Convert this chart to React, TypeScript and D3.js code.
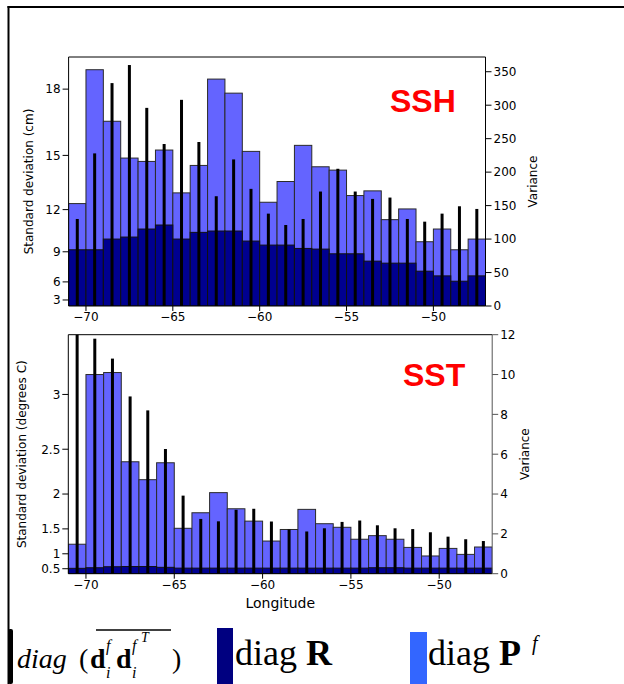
import React from 'react';
import * as d3 from 'd3';

// Longitude bins (left edge of each 1-degree bin)
const lonBins = [-71, -70, -69, -68, -67, -66, -65, -64, -63, -62, -61, -60, -59, -58, -57, -56, -55, -54, -53, -52, -51, -50, -49, -48];
const lonTicks = [-70, -65, -60, -55, -50];

// SSH (variance, cm^2)
const sshPf = [153, 353, 276, 221, 216, 233, 169, 210, 339, 318, 231, 155, 186, 240, 208, 203, 165, 172, 129, 145, 96, 115, 84, 100];
const sshR = [84, 84, 100, 103, 115, 121, 100, 110, 112, 112, 97, 91, 91, 86, 85, 78, 78, 67, 64, 64, 52, 45, 37, 45];
const sshDD = [130, 228, 333, 360, 296, 242, 308, 245, 164, 219, 175, 138, 121, 130, 171, 205, 171, 160, 162, 130, 126, 138, 149, 145];
const sshStdTicks = [3, 6, 9, 12, 15, 18];
const sshVarTicks = [0, 50, 100, 150, 200, 250, 300, 350];

// SST (variance, degC^2)
const sstPf = [1.48, 10.0, 10.1, 5.62, 4.72, 5.57, 2.28, 3.06, 4.07, 3.26, 2.64, 1.64, 2.22, 3.23, 2.51, 2.33, 1.73, 1.91, 1.73, 1.32, 0.89, 1.27, 0.97, 1.34];
const sstR = [0.27, 0.3, 0.35, 0.36, 0.36, 0.32, 0.28, 0.28, 0.28, 0.28, 0.28, 0.28, 0.28, 0.28, 0.28, 0.28, 0.28, 0.3, 0.3, 0.28, 0.28, 0.28, 0.28, 0.28];
const sstDD = [13, 11.8, 10.8, 8.9, 8.2, 6.26, 3.92, 2.75, 2.63, 3.21, 3.26, 2.62, 2.22, 2.12, 2.28, 2.6, 2.67, 2.43, 2.28, 2.24, 2.08, 1.86, 1.73, 1.64];
const sstStdTicks = [0.5, 1, 1.5, 2, 2.5, 3];
const sstVarTicks = [0, 2, 4, 6, 8, 10, 12];

const SANS = '"DejaVu Sans", sans-serif';
const SERIF = '"Liberation Serif", "Times New Roman", serif';
const LIGHT = '#6464ff';
const DARK = '#000090';

type PanelProps = {
  id: string;
  x0: number; x1: number; y0: number; y1: number;
  varMax: number;
  pf: number[]; r: number[]; dd: number[];
  stdTicks: number[]; varTicks: number[];
  leftTitle: string; leftTitleX: number;
  rightTitleX: number;
  tag: string; tagX: number; tagY: number;
  xTitle?: string;
  rightColor: string;
};

function fmtLon(v: number) {
  return v < 0 ? '\u2212' + Math.abs(v) : String(v);
}

function Panel(p: PanelProps) {
  const x = d3.scaleLinear().domain([-71, -47]).range([p.x0, p.x1]);
  const y = d3.scaleLinear().domain([0, p.varMax]).range([p.y1, p.y0]);
  const cy = (p.y0 + p.y1) / 2;
  return (
    <g>
      <defs>
        <clipPath id={p.id}>
          <rect x={p.x0} y={p.y0} width={p.x1 - p.x0} height={p.y1 - p.y0} />
        </clipPath>
      </defs>
      <g clipPath={`url(#${p.id})`}>
        {lonBins.map((b, i) => (
          <rect key={'pf' + i} x={x(b)} y={y(p.pf[i])} width={x(b + 1) - x(b)} height={p.y1 - y(p.pf[i])}
            fill={LIGHT} stroke="#2a2a2a" strokeWidth={1} />
        ))}
        {lonBins.map((b, i) => (
          <rect key={'r' + i} x={x(b)} y={y(p.r[i])} width={x(b + 1) - x(b)} height={p.y1 - y(p.r[i])}
            fill={DARK} stroke="#111" strokeWidth={1} />
        ))}
        {lonBins.map((b, i) => (
          <rect key={'dd' + i} x={x(b + 0.5) - 1.5} y={y(p.dd[i])} width={3} height={p.y1 - y(p.dd[i])} fill="#000" />
        ))}
      </g>
      <line x1={p.x0} x2={p.x1} y1={p.y0} y2={p.y0} stroke="#000" strokeWidth={1} />
      <line x1={p.x0} x2={p.x1} y1={p.y1} y2={p.y1} stroke="#000" strokeWidth={1} />
      <line x1={p.x0} x2={p.x0} y1={p.y0} y2={p.y1} stroke="#000" strokeWidth={1} />
      <line x1={p.x1} x2={p.x1} y1={p.y0} y2={p.y1} stroke={p.rightColor} strokeWidth={1} />
      {p.stdTicks.map((s) => (
        <g key={'ls' + s}>
          <line x1={p.x0 - 6} x2={p.x0} y1={y(s * s)} y2={y(s * s)} stroke="#000" />
          <text x={p.x0 - 8} y={y(s * s)} dy="0.36em" textAnchor="end" fontFamily={SANS} fontSize={12}>{s}</text>
        </g>
      ))}
      {p.varTicks.map((v) => (
        <g key={'rv' + v}>
          <line x1={p.x1} x2={p.x1 + 6} y1={y(v)} y2={y(v)} stroke={p.rightColor} />
          <text x={p.x1 + 8} y={y(v)} dy="0.36em" textAnchor="start" fontFamily={SANS} fontSize={12}>{v}</text>
        </g>
      ))}
      {lonTicks.map((t) => (
        <g key={'xt' + t}>
          <line x1={x(t)} x2={x(t)} y1={p.y1} y2={p.y1 + 5} stroke="#000" />
          <text x={x(t)} y={p.y1 + 15} textAnchor="middle" fontFamily={SANS} fontSize={12}>{fmtLon(t)}</text>
        </g>
      ))}
      <text transform={`translate(${p.leftTitleX},${cy}) rotate(-90)`} textAnchor="middle" fontFamily={SANS} fontSize={12}>{p.leftTitle}</text>
      <text transform={`translate(${p.rightTitleX},${cy}) rotate(-90)`} textAnchor="middle" fontFamily={SANS} fontSize={12}>Variance</text>
      <text x={p.tagX} y={p.tagY} fill="#ff0000" fontFamily='"Liberation Sans", Arial, sans-serif' fontWeight="bold" fontSize={32}>{p.tag}</text>
      {p.xTitle && (
        <text x={(p.x0 + p.x1) / 2} y={p.y1 + 34} textAnchor="middle" fontFamily={SANS} fontSize={14}>{p.xTitle}</text>
      )}
    </g>
  );
}

function Legend() {
  return (
    <g>
      <rect x={8} y={629} width={5} height={55} rx={2} fill="#000" />
      <text x={17} y={668} fontFamily={SERIF} fontStyle="italic" fontSize={28}>diag</text>
      <text x={79} y={668} fontFamily={SERIF} fontSize={28}>(</text>
      <text x={90} y={668} fontFamily={SERIF} fontWeight="bold" fontSize={28}>d</text>
      <text x={106} y={651} fontFamily={SERIF} fontStyle="italic" fontSize={16}>f</text>
      <text x={106} y={678} fontFamily={SERIF} fontStyle="italic" fontSize={16}>i</text>
      <text x={116} y={668} fontFamily={SERIF} fontWeight="bold" fontSize={28}>d</text>
      <text x={132} y={678} fontFamily={SERIF} fontStyle="italic" fontSize={16}>i</text>
      <text x={132} y={651} fontFamily={SERIF} fontStyle="italic" fontSize={16}>f</text>
      <text x={141} y={642} fontFamily={SERIF} fontStyle="italic" fontSize={14}>T</text>
      <text x={172} y={668} fontFamily={SERIF} fontSize={28}>)</text>
      <line x1={96} x2={171} y1={630} y2={630} stroke="#000" strokeWidth={1.5} />

      <rect x={217} y={628} width={16} height={56} fill="#000080" />
      <text x={235} y={665} fontFamily={SERIF} fontSize={36}>
        diag <tspan fontWeight="bold">R</tspan>
      </text>

      <rect x={410} y={632} width={17} height={52} fill="#3366ff" />
      <text x={428} y={665} fontFamily={SERIF} fontSize={36}>
        diag <tspan fontWeight="bold">P</tspan>
      </text>
      <text x={532} y={650} fontFamily={SERIF} fontStyle="italic" fontSize={20}>f</text>
    </g>
  );
}

export default function App() {
  return (
    <svg width={624} height={684} style={{ position: 'absolute', left: 0, top: 0, background: '#fff' }}>
      <rect x={0} y={0} width={624} height={684} fill="#fff" />
      <line x1={7.5} x2={624} y1={7} y2={7} stroke="#000" strokeWidth={2} />
      <line x1={8.5} x2={8.5} y1={6} y2={684} stroke="#000" strokeWidth={2} />
      <Panel id="clipSSH" x0={68.6} x1={485.5} y0={57} y1={306} varMax={372}
        pf={sshPf} r={sshR} dd={sshDD} stdTicks={sshStdTicks} varTicks={sshVarTicks}
        leftTitle="Standard deviation (cm)" leftTitleX={33} rightTitleX={537}
        tag="SSH" tagX={390} tagY={112} rightColor="#000" />
      <Panel id="clipSST" x0={68.3} x1={492.2} y0={334.7} y1={573.7} varMax={12}
        pf={sstPf} r={sstR} dd={sstDD} stdTicks={sstStdTicks} varTicks={sstVarTicks}
        leftTitle="Standard deviation (degrees C)" leftTitleX={26} rightTitleX={529}
        tag="SST" tagX={403} tagY={386} xTitle="Longitude" rightColor="#555" />
      <Legend />
    </svg>
  );
}
